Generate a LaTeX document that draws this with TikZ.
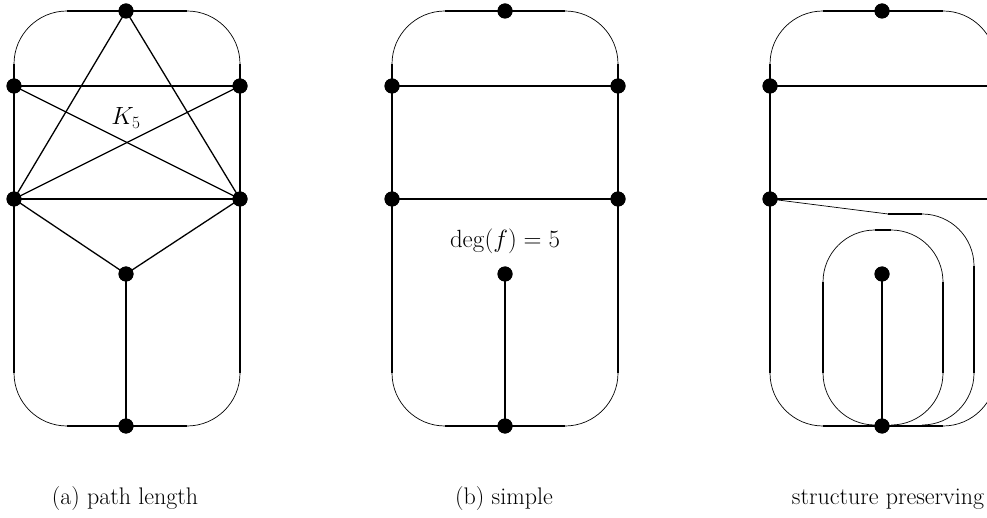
\documentclass[tikz,border=0pt]{standalone}
\begin{document}
\begin{tikzpicture}[x=1pt,y=-1pt,
  dot/.style={circle,fill=black,inner sep=0pt,minimum size=15pt},
  edge/.style={line width=1.3pt},
  rim/.style={line width=2pt},
  curvestroke/.style={line width=0.7pt},
  lbl/.style={font=\fontsize{24}{28}\selectfont,inner sep=0pt}]
\useasboundingbox (0,0) rectangle (987,518);
\clip (0,0) rectangle (987,518);

% rounded outer frame of one panel, shifted by #1
\newcommand{\panelframe}[2]{%
  \begin{scope}[xshift=#1pt]
    \coordinate (#2tl) at (14,64);
    \coordinate (#2bl) at (14,373);
    \coordinate (#2tr) at (240,64);
    \coordinate (#2br) at (240,373);
    \coordinate (#2ta) at (67,11);
    \coordinate (#2tb) at (187,11);
    \coordinate (#2ba) at (67,426);
    \coordinate (#2bb) at (187,426);
    \draw[rim] (#2ta) -- (#2tb);
    \draw[rim] (#2ba) -- (#2bb);
    \draw[curvestroke] (#2tl) arc[start angle=180,end angle=270,radius=53];
    \draw[curvestroke] (#2tb) arc[start angle=270,end angle=360,radius=53];
    \draw[curvestroke] (#2br) arc[start angle=0,end angle=90,radius=53];
    \draw[curvestroke] (#2ba) arc[start angle=90,end angle=180,radius=53];
    \draw[edge] (#2tl) -- (#2bl);
    \draw[edge] (#2tr) -- (#2br);
  \end{scope}}

\panelframe{0}{a}
\panelframe{378}{b}
\panelframe{756}{c}

% ---------- (a) ----------
\node[dot] (aT)  at (126,11)  {};
\node[dot] (aL1) at (14,86)   {};
\node[dot] (aR1) at (240,86)  {};
\node[dot] (aL2) at (14,199)  {};
\node[dot] (aR2) at (240,199) {};
\node[dot] (aM)  at (126,274) {};
\node[dot] (aB)  at (126,426) {};
\draw[edge] (aL1.center) -- (aR1.center);
\draw[edge] (aL2.center) -- (aR2.center);
\draw[edge] (aT.center) -- (aL2.center);
\draw[edge] (aT.center) -- (aR2.center);
\draw[edge] (aL1.center) -- (aR2.center);
\draw[edge] (aR1.center) -- (aL2.center);
\draw[edge] (aL2.center) -- (aM.center);
\draw[edge] (aR2.center) -- (aM.center);
\draw[edge] (aM.center) -- (aB.center);
\node[lbl] (k5) at (126,118) {$K_5$};

% ---------- (b) ----------
\node[dot] (bT)  at (505,11)  {};
\node[dot] (bL1) at (392,86)  {};
\node[dot] (bR1) at (618,86)  {};
\node[dot] (bL2) at (392,199) {};
\node[dot] (bR2) at (618,199) {};
\node[dot] (bM)  at (505,274) {};
\node[dot] (bB)  at (505,426) {};
\draw[edge] (bL1.center) -- (bR1.center);
\draw[edge] (bL2.center) -- (bR2.center);
\draw[edge] (bM.center) -- (bB.center);
\node[lbl] (deg) at (505,241) {$\deg(f) = 5$};

% ---------- structure preserving ----------
\node[dot] (cT)  at (882,11)  {};
\node[dot] (cL1) at (770,86)  {};
\node[dot] (cL2) at (770,199) {};
\node[dot] (cM)  at (882,274) {};
\node[dot] (cB)  at (882,426) {};
\coordinate (cR1) at (996,86);
\coordinate (cR2) at (996,199);
\draw[edge] (cL1.center) -- (cR1);
\draw[edge] (cL2.center) -- (cR2);
\draw[edge] (cM.center) -- (cB.center);
% rerouted edge around the inner face
\coordinate (w1) at (888,214);
\coordinate (w2) at (922,214);
\coordinate (w3) at (974,266);
\coordinate (w4) at (974,373);
\draw[curvestroke] (cL2.center) -- (w1);
\draw[edge] (w1) -- (w2);
\draw[curvestroke] (w2) arc[start angle=270,end angle=360,radius=52];
\draw[edge] (w3) -- (w4);
\draw[curvestroke] (w4) arc[start angle=0,end angle=90,radius=52];
% inner oval around the pendant vertex
\coordinate (o1) at (823,282);
\coordinate (o2) at (823,373);
\coordinate (o3) at (943,282);
\coordinate (o4) at (943,373);
\coordinate (o5) at (875,230);
\coordinate (o6) at (891,230);
\draw[edge] (o1) -- (o2);
\draw[edge] (o3) -- (o4);
\draw[edge] (o5) -- (o6);
\draw[curvestroke] (o1) arc[start angle=180,end angle=270,radius=52];
\draw[curvestroke] (o6) arc[start angle=270,end angle=360,radius=52];
\draw[curvestroke] (o4) arc[start angle=0,end angle=90,radius=52];
\draw[curvestroke] (o2) arc[start angle=180,end angle=90,radius=52];

% redraw vertices on top
\foreach \v in {aT,aL1,aR1,aL2,aR2,aM,aB,bT,bL1,bR1,bL2,bR2,bM,bB,cT,cL1,cL2,cM,cB}
  \fill (\v.center) circle[radius=7.5pt];

% captions
\node[lbl] (capa) at (125,499) {(a) path length};
\node[lbl] (capb) at (504,499) {(b) simple};
\node[lbl] (capc) at (888,499) {structure preserving};
\end{tikzpicture}
\end{document}
